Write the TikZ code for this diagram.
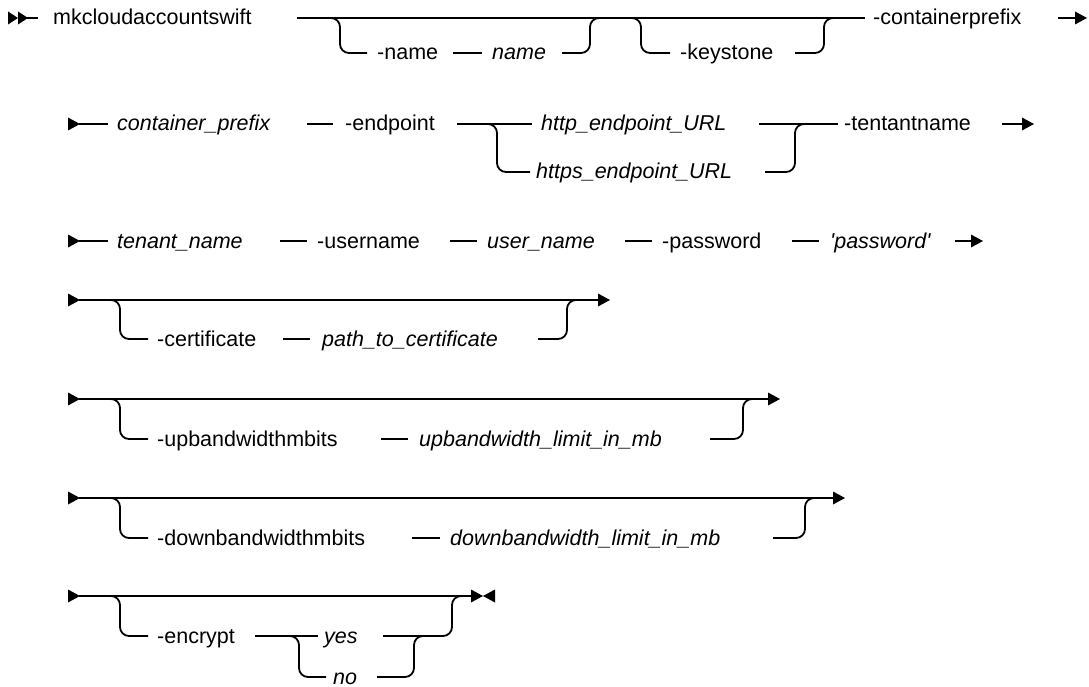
\documentclass[tikz,border=0pt]{standalone}
\usepackage{fontspec}
\setmainfont{Liberation Sans}
\newcommand\RRtri[3]{\fill ({#1-#3},{#2-6.5}) -- (#1,#2) -- ({#1-#3},{#2+6.5}) -- cycle;}
\newcommand\RLtri[3]{\fill ({#1+#3},{#2-6.5}) -- (#1,#2) -- ({#1+#3},{#2+6.5}) -- cycle;}
\begin{document}
\begin{tikzpicture}[x=1pt,y=-1pt,
  rr/.style={line width=1.8pt},
  rc/.style={rr,rounded corners=9pt},
  kw/.style={anchor=base west, inner sep=0pt, font=\fontsize{21.5}{26}\selectfont},
  var/.style={anchor=base west, inner sep=0pt, font=\fontsize{21.5}{26}\selectfont\itshape}]
\useasboundingbox (0,0) rectangle (1089,687);

% ---------- Row 1 ----------
\RRtri{18}{18}{10}\RRtri{28}{18}{10}
\draw[rr] (27,18) -- (38,18);
\node[kw] (mk) at (53,25) {mkcloudaccountswift};
\draw[rr] (297,18) -- (865,18);
\draw[rc] (328,18) -- (340,18) -- (340,53) -- (367,53);
\node[kw] (nm) at (377,60) {-name};
\draw[rr] (453,53) -- (482,53);
\node[var] (nmv) at (492,60) {name};
\draw[rc] (562,53) -- (590,53) -- (590,18) -- (602,18);
\draw[rc] (629,18) -- (641,18) -- (641,53) -- (670,53);
\node[kw] (ks) at (680,60) {-keystone};
\draw[rc] (795,53) -- (824,53) -- (824,18) -- (836,18);
\node[kw] (cpx) at (873,25) {-containerprefix};
\draw[rr] (1058,18) -- (1077,18);
\RRtri{1087}{18}{12}

% ---------- Row 2 ----------
\RRtri{80}{124}{12}
\draw[rr] (79,124) -- (108,124);
\node[var] (cpv) at (117,131) {container\_prefix};
\draw[rr] (307,124) -- (333,124);
\node[kw] (ep) at (345,131) {-endpoint};
\draw[rr] (457,124) -- (532,124);
\draw[rc] (485,124) -- (497,124) -- (497,172) -- (530,172);
\node[var] (http) at (541,131) {http\_endpoint\_URL};
\node[var] (https) at (536,179) {https\_endpoint\_URL};
\draw[rr] (759,124) -- (838,124);
\draw[rc] (765,172) -- (795,172) -- (795,124) -- (807,124);
\node[kw] (tn) at (844,131) {-tentantname};
\draw[rr] (1002,124) -- (1024,124);
\RRtri{1034}{124}{12}

% ---------- Row 3 ----------
\RRtri{80}{241}{12}
\draw[rr] (79,241) -- (108,241);
\node[var] (tnv) at (117,248) {tenant\_name};
\draw[rr] (280,241) -- (307,241);
\node[kw] (un) at (317,248) {-username};
\draw[rr] (450,241) -- (477,241);
\node[var] (unv) at (487,248) {user\_name};
\draw[rr] (625,241) -- (652,241);
\node[kw] (pw) at (662,248) {-password};
\draw[rr] (792,241) -- (819,241);
\node[var] (pwv) at (830,248) {\textquotesingle password\textquotesingle};
\draw[rr] (955,241) -- (973,241);
\RRtri{983}{241}{12}

% ---------- Row 4 ----------
\RRtri{80}{300}{12}
\draw[rr] (79,300) -- (600,300);
\RRtri{610}{300}{12}
\draw[rc] (108,300) -- (120,300) -- (120,339) -- (148,339);
\node[kw] (cert) at (157,346) {-certificate};
\draw[rr] (283,339) -- (310,339);
\node[var] (certv) at (322,346) {path\_to\_certificate};
\draw[rc] (538,339) -- (567,339) -- (567,300) -- (579,300);

% ---------- Row 5 ----------
\RRtri{80}{399}{12}
\draw[rr] (79,399) -- (770,399);
\RRtri{780}{399}{12}
\draw[rc] (108,399) -- (120,399) -- (120,439) -- (148,439);
\node[kw] (up) at (157,446) {-upbandwidthmbits};
\draw[rr] (381,439) -- (408,439);
\node[var] (upv) at (419,446) {upbandwidth\_limit\_in\_mb};
\draw[rc] (710,439) -- (743,439) -- (743,399) -- (755,399);

% ---------- Row 6 ----------
\RRtri{80}{498}{12}
\draw[rr] (79,498) -- (835,498);
\RRtri{845}{498}{12}
\draw[rc] (108,498) -- (120,498) -- (120,538) -- (148,538);
\node[kw] (dn) at (157,545) {-downbandwidthmbits};
\draw[rr] (412,538) -- (440,538);
\node[var] (dnv) at (450,545) {downbandwidth\_limit\_in\_mb};
\draw[rc] (773,538) -- (805,538) -- (805,498) -- (817,498);

% ---------- Row 7 ----------
\RRtri{80}{596}{12}
\draw[rr] (79,596) -- (474,596);
\RRtri{483}{596}{12}
\RLtri{483}{596}{12}
\draw[rc] (108,596) -- (120,596) -- (120,636) -- (148,636);
\node[kw] (enc) at (157,643) {-encrypt};
\draw[rr] (255,636) -- (318,636);
\draw[rc] (287,636) -- (299,636) -- (299,677) -- (326,677);
\node[var] (yes) at (324,643) {yes};
\node[var] (no) at (333,684) {no};
\draw[rc] (383,636) -- (452,636) -- (452,596) -- (464,596);
\draw[rc] (377,677) -- (414,677) -- (414,636) -- (426,636);
\end{tikzpicture}
\end{document}
